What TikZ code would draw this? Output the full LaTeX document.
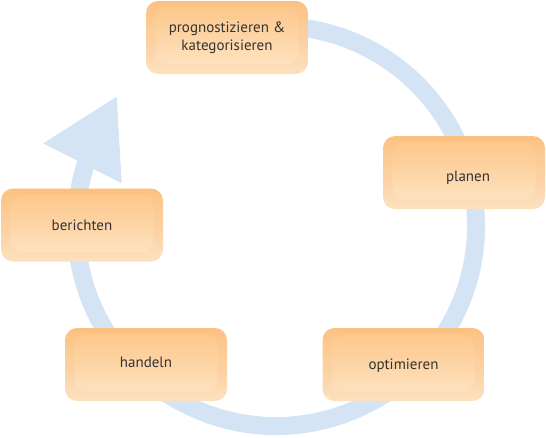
\documentclass[tikz,border=0pt]{standalone}
\usepackage{fontspec}
\setmainfont{PT Sans}
\definecolor{ringblue}{HTML}{D4E4F4}
\definecolor{filltop}{HTML}{FDC586}
\definecolor{fillmid}{HTML}{FDD5A6}
\definecolor{fillbot}{HTML}{FFE6C8}
\definecolor{glow}{HTML}{FCBD76}
\definecolor{textgray}{HTML}{333333}
\tikzset{
  stagebox/.style={
    minimum width=162pt, minimum height=73pt, inner sep=0pt,
    rounded corners=12pt, align=center, text=textgray,
    font=\fontsize{15}{17.5}\selectfont,
    top color=filltop, bottom color=fillbot, middle color=fillmid,
    path picture={
      \foreach \i in {0.25,0.75,...,9.25}{
        \draw[glow, opacity=0.075, line width=0.7pt, rounded corners=12pt]
          ([shift={(\i pt,-0.6*\i pt)}]path picture bounding box.north west) rectangle
          ([shift={(-\i pt,\i pt)}]path picture bounding box.south east);
      }
    }
  },
  ringline/.style={draw=ringblue, line width=18pt}
}
\begin{document}
\begin{tikzpicture}[x=1pt,y=-1pt]
\useasboundingbox (0,0) rectangle (546,437);
% ring
\coordinate (c) at (276,226);
\draw[ringline] ([shift={(255:200)}]c) arc[start angle=255, end angle=560, radius=200];
% arrowhead
\coordinate (a1) at (43.3,143.3);
\coordinate (a2) at (116.7,96.7);
\coordinate (a3) at (121.7,183.3);
\fill[ringblue] (a1) -- (a2) -- (a3) -- cycle;
% boxes
\node[stagebox] (prog) at (227,37.5) {prognostizieren \&\\kategorisieren};
\node[stagebox] (plan) at (464,172.5) {\hspace*{8pt}\raisebox{-5pt}[0.72em][0.22em]{planen}};
\node[stagebox] (ber) at (82,225) {berichten};
\node[stagebox] (hand) at (146,364.5) {\raisebox{1pt}[0.72em][0.22em]{handeln}};
\node[stagebox] (opt) at (403.5,364.5) {\raisebox{-1pt}[0.72em][0.22em]{optimieren}};
\end{tikzpicture}
\end{document}
